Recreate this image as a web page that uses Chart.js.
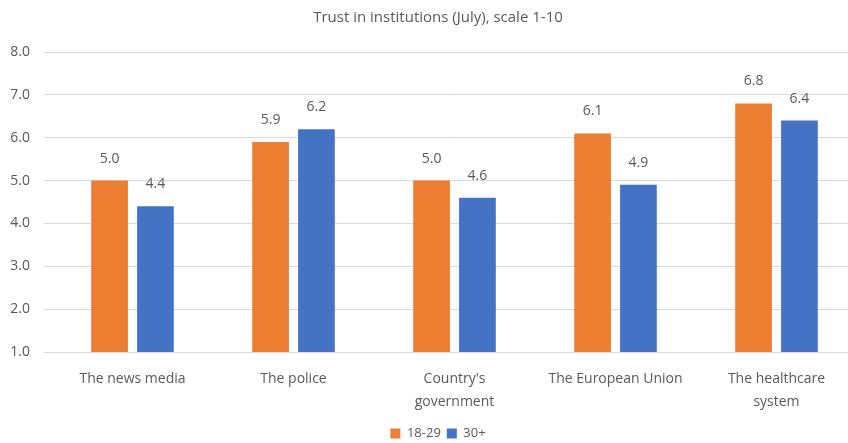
<!DOCTYPE html>
<html>
<head>
<meta charset="utf-8">
<script src="https://cdn.jsdelivr.net/npm/chart.js@4/dist/chart.umd.min.js"></script>
<style>
  html, body { margin: 0; padding: 0; background: #fff; overflow: hidden; }
  #wrap { width: 876px; height: 443px; }
</style>
</head>
<body>
<div id="wrap"><canvas id="barChart"></canvas></div>
<script>
// Chart data
const categories = ['The news media', 'The police', ["Country's", 'government'], 'The European Union', ['The healthcare', 'system']];
const young = [5.0, 5.9, 5.0, 6.1, 6.8];
const older = [4.4, 6.2, 4.6, 4.9, 6.4];
const seriesNames = ['18-29', '30+'];

const textColor = '#595959';
const fontFamily = "'Open Sans', 'Noto Sans', sans-serif";

// draws the value above each bar
const valueLabels = {
    id: 'valueLabels',
    afterDatasetsDraw(chart) {
        const ctx = chart.ctx;
        ctx.save();
        ctx.font = '14px ' + fontFamily;
        ctx.fillStyle = textColor;
        ctx.textAlign = 'center';
        ctx.textBaseline = 'bottom';
        chart.data.datasets.forEach((ds, i) => {
            chart.getDatasetMeta(i).data.forEach((bar, j) => {
                ctx.fillText(ds.data[j].toFixed(1), bar.x, bar.y - 15);
            });
        });
        ctx.restore();
    }
};

const ctx = document.getElementById('barChart').getContext('2d');

const barChart = new Chart(ctx, {
    type: 'bar',
    data: {
        labels: categories,
        datasets: [
            { label: seriesNames[0], data: young, backgroundColor: '#ED7D31' },
            { label: seriesNames[1], data: older, backgroundColor: '#4472C4' }
        ]
    },
    options: {
        responsive: true,
        maintainAspectRatio: false,
        animation: false,
        categoryPercentage: 0.57,
        barPercentage: 0.80,
        layout: { padding: { left: 0, right: 0, top: 0, bottom: -7 } },
        plugins: {
            title: {
                display: true,
                text: 'Trust in institutions (July), scale 1-10',
                color: textColor,
                font: { family: fontFamily, size: 15, weight: 'normal' },
                padding: { top: 9, bottom: 25 }
            },
            legend: {
                position: 'bottom',
                labels: {
                    color: textColor,
                    font: { family: fontFamily, size: 13 },
                    boxWidth: 10,
                    boxHeight: 10,
                    padding: 6
                }
            },
            tooltip: { enabled: false }
        },
        scales: {
            x: {
                grid: { display: false },
                border: { color: '#d9d9d9' },
                ticks: {
                    color: textColor,
                    font: { family: fontFamily, size: 14, lineHeight: 1.6 },
                    maxRotation: 0,
                    padding: 8
                },
                afterFit(scale) { scale.height = 69; }
            },
            y: {
                min: 1,
                max: 8,
                grid: { color: '#d9d9d9' },
                border: { display: false },
                ticks: {
                    stepSize: 1,
                    color: textColor,
                    font: { family: fontFamily, size: 14 },
                    padding: 14,
                    callback: v => v.toFixed(1)
                },
                afterFit(scale) { scale.width = 52; }
            },
            // empty right-hand strip so the plot runs past the visible edge
            yRight: {
                position: 'right',
                grid: { display: false },
                border: { display: false },
                ticks: { display: false },
                afterFit(scale) { scale.width = 19; }
            }
        }
    },
    plugins: [valueLabels]
});
</script>
</body>
</html>
